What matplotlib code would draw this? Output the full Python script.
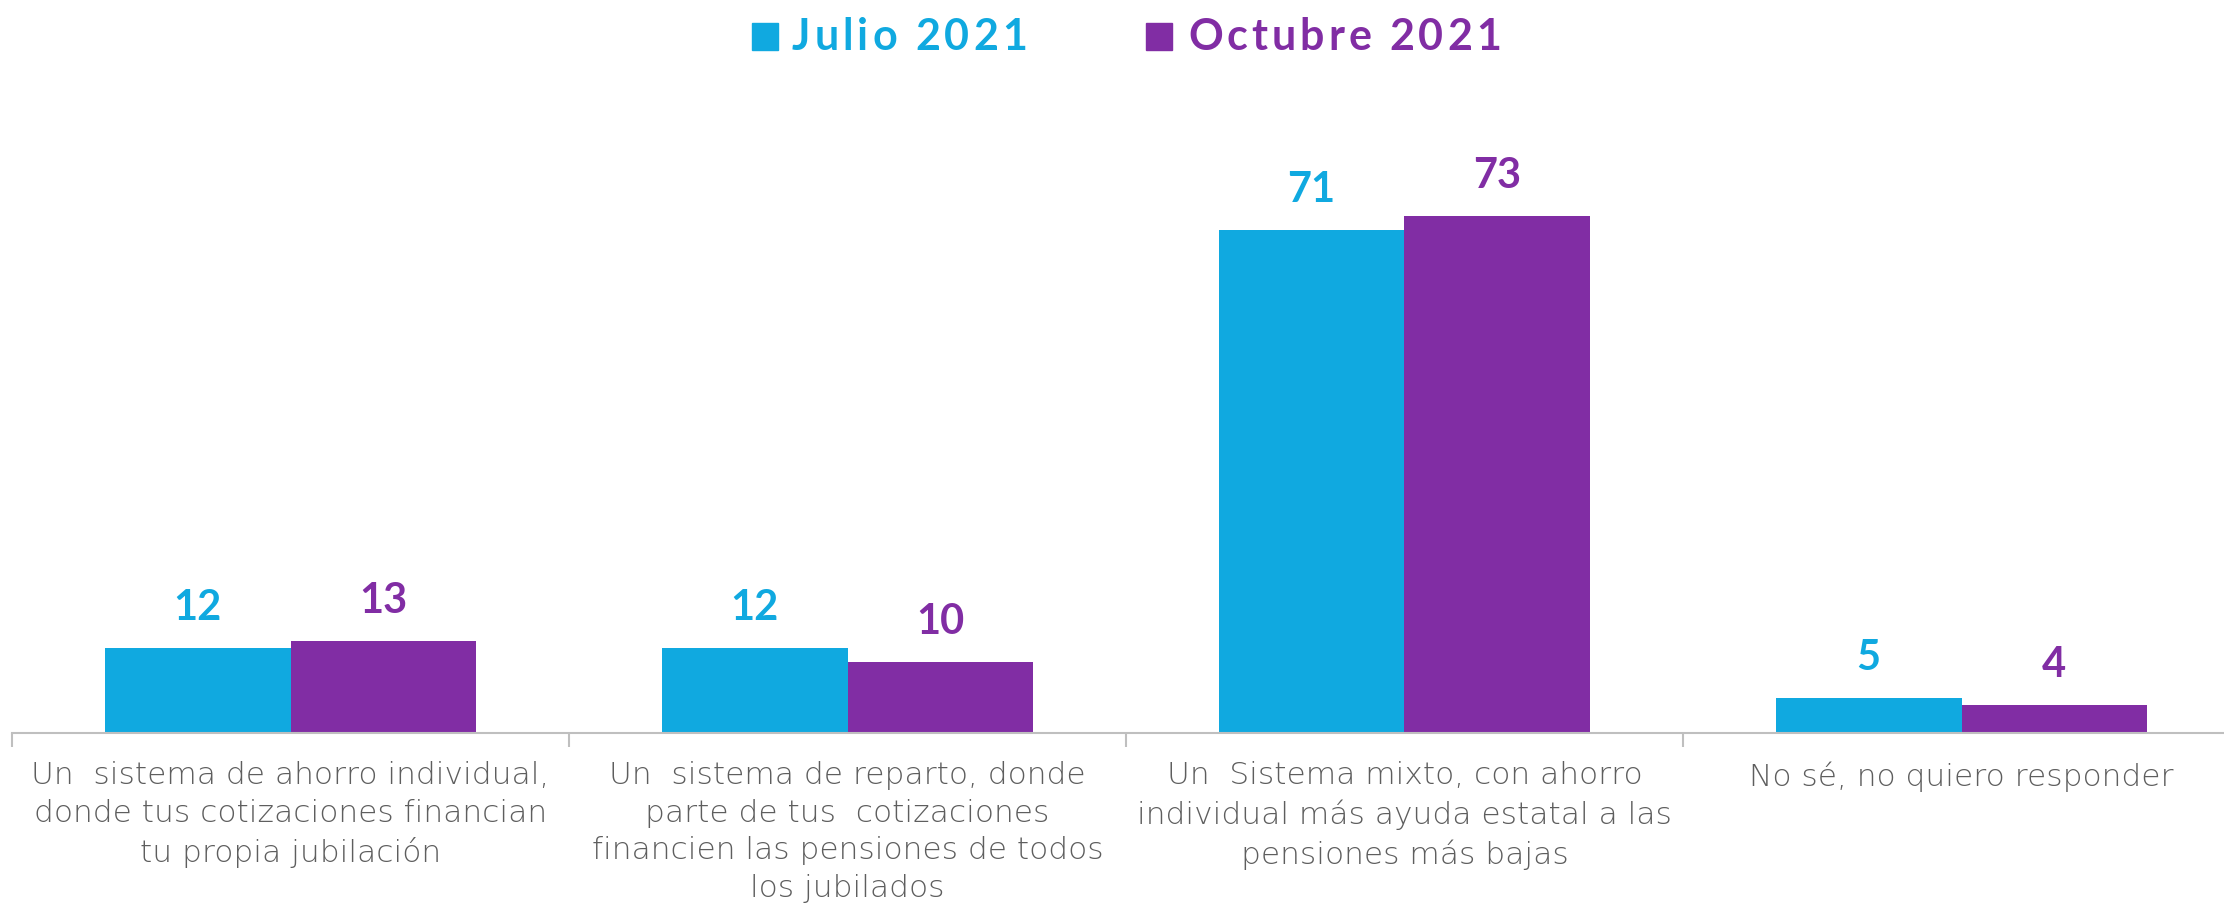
import matplotlib
matplotlib.use("Agg")
import matplotlib.pyplot as plt
import numpy as np
from matplotlib.patches import Rectangle

categories = [
    "Un  sistema de ahorro individual,\ndonde tus cotizaciones financian\ntu propia jubilación",
    "Un  sistema de reparto, donde\nparte de tus  cotizaciones\nfinancien las pensiones de todos\nlos jubilados",
    "Un  Sistema mixto, con ahorro\nindividual más ayuda estatal a las\npensiones más bajas",
    "No sé, no quiero responder",
]
series_names = ["Julio 2021", "Octubre 2021"]
julio = [12, 12, 71, 5]
octubre = [13, 10, 73, 4]

C_BLUE = "#10A9E0"
C_PURPLE = "#812DA4"
C_GRAY = "#5E5E5E"

W, H = 2224, 905
fig = plt.figure(figsize=(W / 100, H / 100), dpi=100)

# plot area in pixels (from top-left)
ax_left, ax_right = 12, 12 + 4 * 557
ax_base, ax_top = 733, 100
ax = fig.add_axes([ax_left / W, (H - ax_base) / H, (ax_right - ax_left) / W, (ax_base - ax_top) / H])
px_per_unit = 7.085
ax.set_ylim(0, (ax_base - ax_top) / px_per_unit)
ax.set_xlim(-0.5, 3.5)

x = np.arange(len(categories))
bw = 1 / 3
b1 = ax.bar(x - bw / 2, julio, width=bw, color=C_BLUE, zorder=2)
b2 = ax.bar(x + bw / 2, octubre, width=bw, color=C_PURPLE, zorder=2)

lab_font = dict(family=["Lato", "DejaVu Sans"], fontweight="bold", fontsize=30)
for bars, vals, col in ((b1, julio, C_BLUE), (b2, octubre, C_PURPLE)):
    for rect, v in zip(bars, vals):
        ax.annotate(f"{v}", (rect.get_x() + rect.get_width() / 2, v),
                    xytext=(0, 20), textcoords="offset points",
                    ha="center", va="baseline", color=col, **lab_font)

for s in ("top", "left", "right"):
    ax.spines[s].set_visible(False)
ax.spines["bottom"].set_color("#BFBFBF")
ax.spines["bottom"].set_linewidth(1.5)
ax.set_yticks([])
ax.set_xticks(np.arange(-0.5, 4.0, 1.0))
ax.set_xticklabels([])
ax.tick_params(axis="x", length=10, width=1.5, color="#BFBFBF", direction="out")

for xi, lab in zip(x, categories):
    ax.text(xi, -28 / (ax_base - ax_top), lab, transform=ax.get_xaxis_transform(),
            ha="center", va="top", multialignment="center", fontsize=22.5, color=C_GRAY,
            family=["DejaVu Sans"], fontweight=200, linespacing=1.38, clip_on=False)

# legend with tracked letters
renderer = fig.canvas.get_renderer()
def tracked(x_px, y_px, s, color, tracking):
    xx = x_px
    for ch in s:
        if ch == " ":
            xx += 14
            continue
        t = fig.text(xx / W, (H - y_px) / H, ch, ha="left", va="center", color=color,
                     family=["Lato", "DejaVu Sans"], fontweight="bold", fontsize=31)
        bb = t.get_window_extent(renderer)
        xx += bb.width + tracking

leg_y = 37
for (sq_x, tx_x, name, col) in ((752, 792, series_names[0], C_BLUE),
                                (1146, 1188, series_names[1], C_PURPLE)):
    fig.patches.append(Rectangle((sq_x / W, (H - leg_y - 13) / H), 26 / W, 27 / H,
                                 transform=fig.transFigure, color=col, figure=fig))
    tracked(tx_x, leg_y, name, col, 4)

fig.savefig("out.png", dpi=100)
